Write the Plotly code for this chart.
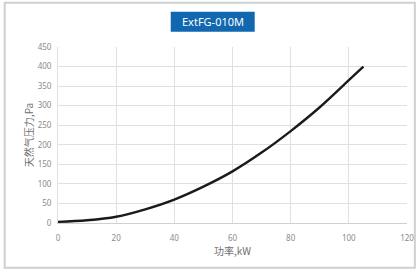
import plotly.graph_objects as go

power_kw = [0, 10, 20, 30, 40, 50, 60, 70, 80, 90, 100, 105]
gas_pressure_pa = [3, 7, 16, 35, 60, 93, 132, 180, 235, 296, 365, 400]
x_ticks = [0, 20, 40, 60, 80, 100, 120]
y_ticks = [0, 50, 100, 150, 200, 250, 300, 350, 400, 450]
title_text = "ExtFG-010M"
x_title = "功率,kW"
y_title = "天然气压力,Pa"

fig = go.Figure()
fig.add_trace(go.Scatter(
    x=power_kw, y=gas_pressure_pa, mode="lines",
    line=dict(color="#1a1a1a", width=2.4, shape="spline", smoothing=1.0),
    showlegend=False, hoverinfo="skip", cliponaxis=False))

tick_font = dict(family="Noto Sans, Noto Sans CJK SC", size=8, color="#8a8a8a")
fig.update_layout(
    template="none",
    width=417, height=274,
    margin=dict(l=58, r=10, t=47, b=51, autoexpand=False),
    paper_bgcolor="white", plot_bgcolor="white",
    xaxis=dict(range=[0, 120], tickvals=x_ticks, showgrid=True, gridcolor="#e0e0e0", gridwidth=1,
               zeroline=False, showline=True, linecolor="#d0d0d0", linewidth=1, automargin=False,
               ticks="outside", ticklen=7, tickcolor="rgba(0,0,0,0)", tickfont=tick_font,
               title=dict(text=x_title, font=dict(family="Noto Sans CJK SC", size=10, color="#707070"), standoff=2)),
    yaxis=dict(range=[0, 450], tickvals=y_ticks, showgrid=True, gridcolor="#e0e0e0", gridwidth=1,
               zeroline=False, showline=True, linecolor="#e0e0e0", linewidth=1, automargin=False,
               ticks="outside", ticklen=4, tickcolor="rgba(0,0,0,0)", tickfont=tick_font,
               title=dict(text=y_title, font=dict(family="Noto Sans CJK SC", size=10, color="#707070"), standoff=2)),
    shapes=[
        dict(type="rect", xref="paper", yref="paper", x0=-0.1527, x1=1.0225, y0=-0.254, y1=1.2517,
             line=dict(color="#cfcfcf", width=2), fillcolor="rgba(0,0,0,0)", layer="below"),
        dict(type="rect", xref="paper", yref="paper", x0=0.323, x1=0.5636, y0=1.087, y1=1.2006,
             line=dict(width=0), fillcolor="#1168b0"),
    ],
    annotations=[
        dict(text=title_text, xref="paper", yref="paper", x=0.443, y=1.144, showarrow=False,
             xanchor="center", yanchor="middle",
             font=dict(family="Noto Sans", size=11, color="white")),
    ],
)
fig.write_html("out.html", config={"displayModeBar": False, "staticPlot": True},
               post_script="document.body.style.margin='0';document.body.style.overflow='hidden';")
